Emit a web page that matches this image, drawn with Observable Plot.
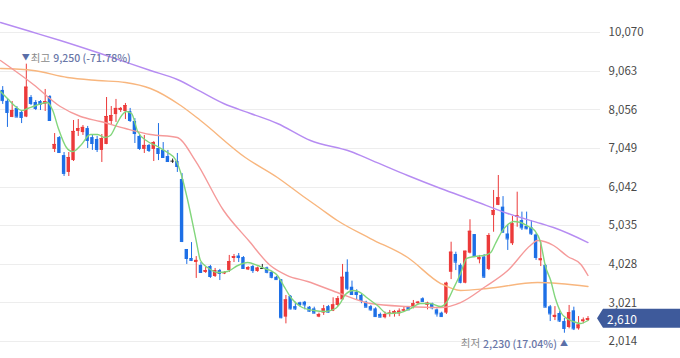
<!DOCTYPE html>
<html><head><meta charset="utf-8">
<script src="https://cdn.jsdelivr.net/npm/d3@7"></script>
<script src="https://cdn.jsdelivr.net/npm/@observablehq/plot@0.6"></script>
<style>
html,body{margin:0;padding:0;background:#fff;}
#chart{width:680px;height:358px;overflow:hidden;}
svg{display:block;}
</style></head><body><div id="chart"></div>
<script>
// ---- daily candles (index 0 = oldest) ----
const opens = [8565,8280,7860,8095,7990,7870,8380,8250,8275,8200,
  8405,7025,7335,6865,6425,6735,7495,7465,7570,7335,
  7285,7000,7155,7755,7935,8040,8015,8015,7755,7365,
  7025,7130,7025,7050,7000,6840,6720,6710,6240,4415,
  4180,4075,4000,3815,3970,3710,3865,3775,3865,4180,
  4245,4205,3880,3970,3840,3920,3935,3820,3690,3625,
  2650,3190,2925,3025,3040,2910,2865,2650,2755,2925,
  2805,2955,3100,3820,3430,3300,3215,3040,2925,2865,
  2720,2635,2720,2720,2735,2805,2910,2895,3000,3130,
  2955,3000,2840,2755,2755,3820,4285,4000,3535,4320,
  4805,4145,4220,3895,5300,5565,5520,4820,4565,5255,
  5170,5015,4990,4795,4120,4000,2920,2640,2745,2535,
  2380,2815,2345,2530,2560];
const highs = [8665,8355,8275,8145,8040,9250,8430,8300,8300,8590,
  8430,7440,7360,6945,6945,7780,7805,7650,7625,7415,
  7365,7415,8380,8145,8330,8120,8225,8095,7830,7390,
  7390,7155,7230,7700,7205,7000,6775,6920,6395,4415,
  4595,4230,4075,3945,4000,3920,3895,3840,4260,4285,
  4310,4230,3970,4000,3955,4025,3955,3850,3710,3630,
  3215,3215,3040,3040,3060,2925,2910,2755,2955,2955,
  3155,3190,4025,4145,3590,3365,3260,3065,2955,2895,
  2755,2780,2825,2825,2865,2910,2925,3085,3060,3155,
  3040,3015,2865,2780,3560,4605,4345,4040,4370,5190,
  4805,4260,4285,4830,5955,6345,5795,5040,5275,5910,
  5390,5390,5170,4825,4605,4025,2955,2925,2795,2615,
  2955,2910,2665,2630,2665];
const lows = [8200,7600,7855,7860,7700,7855,8170,8040,8040,8015,
  7775,6945,6920,6320,6320,6710,7365,7390,7050,7000,
  6945,6685,7150,7650,7730,7990,7805,7730,7180,7000,
  6920,6945,6710,6735,6790,6685,6660,6425,4595,4025,
  4100,3660,3790,3790,3660,3685,3605,3760,3815,4075,
  4075,3895,3865,3790,3820,3895,3780,3650,3625,2605,
  2475,2840,2825,2910,2840,2780,2735,2635,2695,2755,
  2795,2925,3085,3345,3215,3085,3000,2895,2805,2650,
  2635,2605,2650,2650,2665,2780,2825,2865,2980,3040,
  2840,2840,2650,2650,2720,3630,3865,3520,3520,4300,
  4215,4040,3660,3865,4865,5560,4860,4390,4520,4995,
  4910,4930,4780,4130,3970,2900,2535,2560,2510,2230,
  2345,2300,2310,2475,2535];
const closes = [8300,7990,8040,7870,7860,8650,8225,8095,8200,8275,
  7780,7155,6945,6400,6815,7495,7570,7600,7260,7180,
  7025,7310,7885,7910,8095,8095,8170,7780,7440,7050,
  7130,7000,7205,6920,6815,6710,6720,6580,4625,4180,
  4130,4130,3815,3865,3710,3865,3790,3815,4100,4230,
  4205,3920,3945,3865,3930,3920,3820,3690,3630,2635,
  3100,2865,2865,2980,2970,2805,2755,2720,2865,2780,
  2970,3130,3690,3390,3240,3240,3085,2910,2840,2665,
  2650,2720,2755,2795,2805,2840,2840,3000,3040,3060,
  3015,2895,2735,2665,3535,4345,4085,3560,4370,4890,
  4230,4200,3695,4780,5430,5765,4865,4690,5085,5300,
  4980,4955,4825,4205,4170,2910,2735,2695,2550,2355,
  2765,2345,2445,2575,2610];

// ---- moving averages at sample points (candle index, price) ----
const ma5Idx = [-0.47,1.0,2.7,4.0,5.3,7.0,9.5,10.6,11.8,13.5,14.8,16.5,18.6,20.1,21.6,22.8,24.1,25.2,26.2,27.3,28.6,30.7,32.8,34.9,36.6,37.7,39.2,40.9,41.9,43.4,45.5,47.6,49.8,51.9,54.0,55.5,56.7,58.2,59.5,61.2,63.1,65.9,68.4,70.5,71.6,72.6,74.3,75.8,77.1,79.4,81.5,84.3,86.4,88.5,90.6,92.8,94.0,95.5,97.0,98.3,100.0,101.9,103.4,104.4,105.5,107.0,108.2,109.7,111.4,112.7,113.9,115.0,116.1,117.1,118.4,119.5,120.9,122.4,124];
const ma5Val = [8537,8354,8145,8041,8093,8171,8250,8041,7571,7076,6971,7128,7415,7415,7336,7389,7676,7911,8015,7963,7493,7232,7102,6945,6763,6424,5693,4701,4128,3945,3815,3840,3997,4075,3997,3919,3867,3736,3475,3136,2927,2823,2797,2875,3031,3241,3345,3292,3162,2953,2745,2771,2875,3005,3005,2927,3031,3397,3788,4180,4232,4258,4337,4571,4832,5067,5145,5119,5015,4910,4623,3971,3606,3136,2745,2614,2536,2484,2562];
const ma20Idx = [-0.47,6.5,12.2,16.5,20.7,26.0,31.3,37.0,40.8,46.8,52.1,56.7,60.3,64.6,70.9,77.9,85.8,92.8,97.0,102.3,107.0,111.8,113.3,116.7,119.7,122.5,124];
const ma20Val = [9345,8720,8145,7884,7754,7571,7415,7336,6736,5432,4649,3997,3736,3579,3292,3005,2927,2901,3031,3449,3866,4519,4649,4519,4232,4023,3736];
const ma60Idx = [-0.47,6.5,13.7,20.1,26.0,31.3,37.7,41.9,51.4,58.2,63.7,67.3,70.9,77.9,85.8,92.8,97.0,102.7,113.3,124];
const ma60Val = [9137,9085,8902,8824,8771,8615,8171,7780,6815,6293,5797,5484,5171,4701,4206,3527,3345,3397,3553,3449];
const ma120Idx = [-0.47,5.9,12.2,20.7,31.3,37.0,41.9,46.8,52.5,58.2,65.2,73.7,78.3,85.8,92.8,99.7,107.0,114.0,116.7,124];
const ma120Val = [10337,10102,9867,9528,9085,8850,8537,8224,7963,7702,7258,6971,6736,6345,6006,5693,5354,5093,4988,4597];

// ---- axis ticks and labels ----
const yTicks = [2014,3021,4028,5035,6042,7049,8056,9063,10070];
const maxIdx = 5, maxPrice = 9250, maxPct = "-71.78%", maxWord = "최고";
const minIdx = 119, minPrice = 2230, minPct = "17.04%", minWord = "최저";
const lastPrice = 2610;

const UP = "#ec3a3a", DOWN = "#1d6fe6", DOJI = "#222";
const fmt = d3.format(",");
const candles = opens.map((o, i) => ({i, open: o, high: highs[i], low: lows[i], close: closes[i]}));
const col = d => d.close > d.open ? UP : d.close < d.open ? DOWN : DOJI;
const line = (xs, vs) => xs.map((x, k) => ({i: x, v: vs[k]}));
const FONT = "'Noto Sans CJK KR','Noto Sans',sans-serif";

const chart = Plot.plot({
  width: 680, height: 358,
  marginLeft: 0, marginRight: 80, marginTop: 0, marginBottom: 0,
  style: {background: "#fff", fontFamily: FONT, fontSize: "11.5px", color: "#4a4a4a"},
  x: {domain: [-0.47, 126.65], axis: null},
  y: {domain: [1571, 10911], axis: null},
  marks: [
    Plot.ruleY(yTicks, {stroke: "#ededed", shapeRendering: "crispEdges"}),
    Plot.axisY(yTicks, {anchor: "right", tickSize: 0, tickPadding: 8, tickFormat: fmt, fontSize: 11.5}),
    Plot.ruleX(candles, {x: "i", y1: "low", y2: "high", stroke: col, strokeWidth: 1}),
    Plot.rect(candles, {x1: d => d.i - 0.36, x2: d => d.i + 0.36, y1: "open", y2: "close", fill: col}),
    Plot.ruleY(candles, {x1: d => d.i - 0.36, x2: d => d.i + 0.36, y: "close", stroke: col, strokeWidth: 1}),
    Plot.line(line(ma120Idx, ma120Val), {x: "i", y: "v", stroke: "#b68cf2", strokeWidth: 1.4, curve: "monotone-x"}),
    Plot.line(line(ma60Idx, ma60Val), {x: "i", y: "v", stroke: "#f8b67e", strokeWidth: 1.4, curve: "monotone-x"}),
    Plot.line(line(ma20Idx, ma20Val), {x: "i", y: "v", stroke: "#f59a9a", strokeWidth: 1.4, curve: "monotone-x"}),
    Plot.line(line(ma5Idx, ma5Val), {x: "i", y: "v", stroke: "#82d67c", strokeWidth: 1.4, curve: "monotone-x"})
  ]
});
document.getElementById("chart").appendChild(chart);

// ---- annotations positioned through Plot's scales ----
const sx = chart.scale("x"), sy = chart.scale("y");
const svg = d3.select(chart);
const g = svg.append("g").attr("font-family", FONT);

// high marker
const hx = sx.apply(maxIdx), hy = sy.apply(maxPrice);
g.append("text").attr("x", hx).attr("y", hy - 7).attr("text-anchor", "middle")
  .attr("dominant-baseline", "central").attr("font-size", 8).attr("fill", "#5a6fa8").text("▼");
const ht = g.append("text").attr("x", hx + 5).attr("y", hy - 6.5).attr("text-anchor", "start")
  .attr("dominant-baseline", "central").attr("font-size", 10.5).attr("fill", "#8a8a8a").text(maxWord);
ht.append("tspan").attr("dx", 3).attr("fill", "#6a77a8").attr("font-weight", 500)
  .text(`${fmt(maxPrice)} (${maxPct})`);

// low marker
const lx = sx.apply(minIdx), ly = sy.apply(minPrice);
g.append("text").attr("x", lx).attr("y", ly + 10).attr("text-anchor", "middle")
  .attr("dominant-baseline", "central").attr("font-size", 8).attr("fill", "#5a6fa8").text("▲");
const lt = g.append("text").attr("x", lx - 7).attr("y", ly + 10).attr("text-anchor", "end")
  .attr("dominant-baseline", "central").attr("font-size", 10.5).attr("fill", "#8a8a8a").text(minWord);
lt.append("tspan").attr("dx", 3).attr("fill", "#6a77a8").attr("font-weight", 500)
  .text(`${fmt(minPrice)} (${minPct})`);

// current price tag on the axis
const py = sy.apply(lastPrice);
g.append("path")
  .attr("d", `M597,${py} L603,${py - 9.5} L680,${py - 9.5} L680,${py + 9.5} L603,${py + 9.5} Z`)
  .attr("fill", "#3e5a9b");
g.append("text").attr("x", 607).attr("y", py).attr("text-anchor", "start").attr("dominant-baseline", "central")
  .attr("font-size", 12).attr("fill", "#fff").text(fmt(lastPrice));
</script>
</body></html>
